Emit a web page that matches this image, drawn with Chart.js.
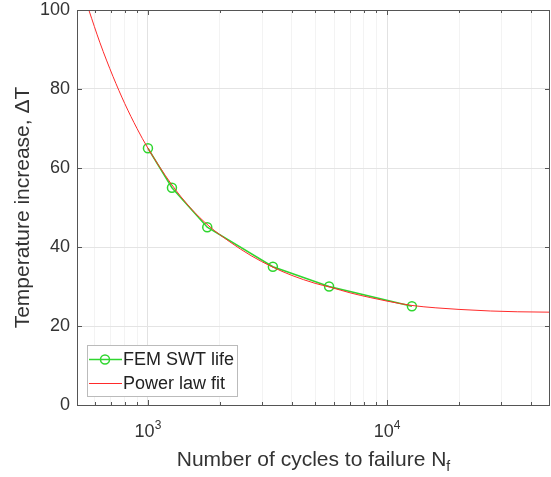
<!DOCTYPE html>
<html>
<head>
<meta charset="utf-8">
<script src="https://cdn.jsdelivr.net/npm/chart.js@4.4.0/dist/chart.umd.min.js"></script>
<style>
    html, body { margin: 0; padding: 0; background: #fff; }
    #wrap { width: 551px; height: 477px; }
</style>
</head>
<body>
<div id="wrap"><canvas id="chart" width="551" height="477"></canvas></div>
<script>
// FEM points (cycles to failure vs temperature increase)
const femCycles = [1000, 1260, 1770, 3330, 5720, 12700];
const femDeltaT = [65, 55, 45, 35, 30, 25];

// Power law fit curve
const fitCycles = [566, 630, 714, 800, 900, 1000, 1250, 1500, 1800, 2200, 2700, 3300, 4000,
                   5000, 5800, 7000, 8500, 10000, 12700, 16000, 20000, 27000, 35000, 48000];
const fitDeltaT = [100, 91.7, 83.2, 76.3, 70, 65, 56, 50, 45.3, 41.3, 37.8, 35, 32.8,
                   30.8, 29.8, 28.4, 27.2, 26.3, 25.2, 24.6, 24.2, 23.8, 23.6, 23.5];

// Axis ticks
const yTicks = [0, 20, 40, 60, 80, 100];
const xMajorTicks = [1000, 10000];
const xMinorTicks = [600, 700, 800, 900, 2000, 3000, 4000, 5000, 6000, 7000, 8000, 9000,
                     20000, 30000, 40000];
const xTickExp = { 1000: '3', 10000: '4' };

const legendLabels = ['FEM SWT life', 'Power law fit'];
const FONT = '"Liberation Sans", Arial, Helvetica, sans-serif';
const GREEN = '#2fd62f';
const RED = '#ff2a2a';

function toPoints(xs, ys) {
    return xs.map((x, i) => ({ x: x, y: ys[i] }));
}

// Box, inside ticks, tick labels, titles and legend like the MATLAB figure
const matlabDecor = {
    id: 'matlabDecor',
    afterDraw(chart) {
        const ctx = chart.ctx;
        const area = chart.chartArea;
        const xs = chart.scales.x;
        const ys = chart.scales.y;
        ctx.save();

        // box
        ctx.strokeStyle = '#555';
        ctx.lineWidth = 1;
        ctx.strokeRect(area.left + 0.5, area.top + 0.5, area.right - area.left - 1, area.bottom - area.top);

        // inside ticks
        ctx.beginPath();
        xMajorTicks.concat(xMinorTicks).forEach(v => {
            const px = Math.round(xs.getPixelForValue(v)) + 0.5;
            const len = xMajorTicks.includes(v) ? 5 : 3;
            ctx.moveTo(px, area.bottom); ctx.lineTo(px, area.bottom - len);
            ctx.moveTo(px, area.top); ctx.lineTo(px, area.top + len);
        });
        yTicks.forEach(v => {
            const py = Math.round(ys.getPixelForValue(v)) + 0.5;
            ctx.moveTo(area.left, py); ctx.lineTo(area.left + 5, py);
            ctx.moveTo(area.right, py); ctx.lineTo(area.right - 5, py);
        });
        ctx.stroke();

        // x tick labels 10^n
        ctx.fillStyle = '#333';
        ctx.textBaseline = 'alphabetic';
        xMajorTicks.forEach(v => {
            const px = xs.getPixelForValue(v);
            ctx.font = '18px ' + FONT;
            const w1 = ctx.measureText('10').width;
            ctx.font = '12px ' + FONT;
            const w2 = ctx.measureText(xTickExp[v]).width;
            const start = px - (w1 + w2) / 2;
            ctx.font = '18px ' + FONT;
            ctx.textAlign = 'left';
            ctx.fillText('10', start, area.bottom + 32);
            ctx.font = '12px ' + FONT;
            ctx.fillText(xTickExp[v], start + w1, area.bottom + 24);
        });

        // x title with subscript
        ctx.font = '21px ' + FONT;
        const main = 'Number of cycles to failure N';
        const wMain = ctx.measureText(main).width;
        ctx.font = '14px ' + FONT;
        const wSub = ctx.measureText('f').width;
        const xStart = (area.left + area.right) / 2 - (wMain + wSub) / 2;
        ctx.font = '21px ' + FONT;
        ctx.fillText(main, xStart, area.bottom + 61);
        ctx.font = '14px ' + FONT;
        ctx.fillText('f', xStart + wMain, area.bottom + 66);

        // y title
        ctx.save();
        ctx.translate(29, (area.top + area.bottom) / 2);
        ctx.rotate(-Math.PI / 2);
        ctx.font = '21px ' + FONT;
        ctx.textAlign = 'center';
        ctx.fillText('Temperature increase, \u0394T', 0, 0);
        ctx.restore();

        // legend box
        const lx = area.left + 10, ly = area.bottom - 60, lw = 150, lh = 51;
        ctx.fillStyle = '#fff';
        ctx.fillRect(lx, ly, lw, lh);
        ctx.strokeStyle = '#bbb';
        ctx.strokeRect(lx + 0.5, ly + 0.5, lw, lh);
        const rows = [ly + 14, ly + 38];
        chart.data.datasets.forEach((ds, i) => {
            const ry = rows[i] + 0.5;
            ctx.strokeStyle = ds.borderColor;
            ctx.lineWidth = ds.borderWidth;
            ctx.beginPath();
            ctx.moveTo(lx + 2, ry); ctx.lineTo(lx + 35, ry);
            ctx.stroke();
            if (ds.pointRadius > 0) {
                ctx.lineWidth = ds.pointBorderWidth;
                ctx.beginPath();
                ctx.arc(lx + 18, ry, ds.pointRadius, 0, Math.PI * 2);
                ctx.stroke();
            }
            ctx.fillStyle = '#222';
            ctx.font = '18px ' + FONT;
            ctx.textAlign = 'left';
            ctx.textBaseline = 'middle';
            ctx.fillText(legendLabels[i], lx + 36, ry + 1);
        });
        ctx.restore();
    }
};

const ctx = document.getElementById('chart').getContext('2d');
new Chart(ctx, {
    type: 'line',
    data: {
        datasets: [{
            label: legendLabels[0],
            data: toPoints(femCycles, femDeltaT),
            borderColor: GREEN,
            borderWidth: 1.5,
            pointStyle: 'circle',
            pointRadius: 4.5,
            pointBorderWidth: 1.5,
            pointBorderColor: GREEN,
            pointBackgroundColor: 'rgba(0,0,0,0)',
            fill: false,
            order: 1
        }, {
            label: legendLabels[1],
            data: toPoints(fitCycles, fitDeltaT),
            borderColor: RED,
            borderWidth: 1,
            pointRadius: 0,
            cubicInterpolationMode: 'monotone',
            fill: false,
            order: 0
        }]
    },
    options: {
        responsive: false,
        animation: false,
        layout: { autoPadding: false, padding: { top: 10, right: 1, left: 0, bottom: 0 } },
        plugins: {
            legend: { display: false },
            tooltip: { enabled: false }
        },
        scales: {
            x: {
                type: 'logarithmic',
                min: 505,
                max: 48000,
                afterBuildTicks: scale => {
                    scale.ticks = xMinorTicks.concat(xMajorTicks).sort((a, b) => a - b)
                        .map(v => ({ value: v }));
                },
                afterFit: scale => {
                    scale.height = 72;
                    scale.paddingLeft = 0;
                    scale.paddingRight = 0;
                },
                ticks: { display: false },
                grid: {
                    drawTicks: false,
                    color: c => (c.tick && xMajorTicks.includes(c.tick.value)) ? '#e2e2e2' : '#f3f3f3'
                },
                border: { display: false }
            },
            y: {
                min: 0,
                max: 100,
                afterBuildTicks: scale => {
                    scale.ticks = yTicks.map(v => ({ value: v }));
                },
                afterFit: scale => {
                    scale.width = 77;
                    scale.paddingTop = 0;
                    scale.paddingBottom = 0;
                },
                ticks: {
                    padding: 7,
                    color: '#333',
                    font: { family: FONT, size: 18 }
                },
                grid: { drawTicks: false, color: '#e4e4e4' },
                border: { display: false }
            }
        }
    },
    plugins: [matlabDecor]
});
</script>
</body>
</html>
